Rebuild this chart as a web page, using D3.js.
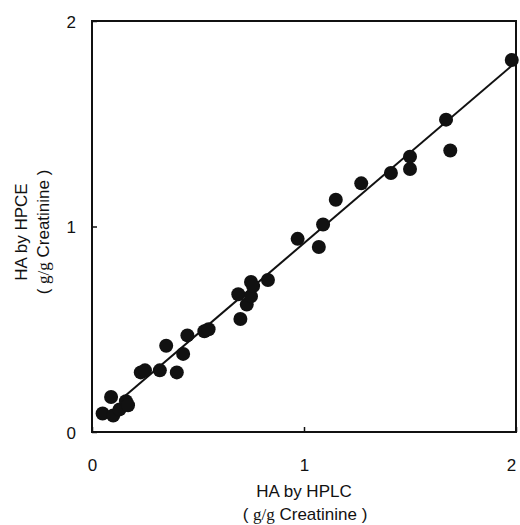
<!DOCTYPE html>
<html>
<head>
<meta charset="utf-8">
<script src="https://cdnjs.cloudflare.com/ajax/libs/d3/7.8.5/d3.min.js"></script>
<style>
    body { margin: 0; background: #fff; }
    svg text { font-family: "Liberation Sans", Arial, sans-serif; fill: #111; }
</style>
</head>
<body>
<div id="chart"></div>
<script>
// HA values
var hplc = [0.05, 0.09, 0.10, 0.13, 0.16, 0.17, 0.23, 0.25, 0.32, 0.35, 0.40, 0.43, 0.45,
            0.53, 0.55, 0.69, 0.70, 0.73, 0.75, 0.75, 0.76, 0.83, 0.97, 1.07, 1.09, 1.15,
            1.27, 1.41, 1.50, 1.50, 1.67, 1.69, 1.98];
var hpce = [0.09, 0.17, 0.08, 0.11, 0.15, 0.13, 0.29, 0.30, 0.30, 0.42, 0.29, 0.38, 0.47,
            0.49, 0.50, 0.67, 0.55, 0.62, 0.73, 0.66, 0.71, 0.74, 0.94, 0.90, 1.01, 1.13,
            1.21, 1.26, 1.28, 1.34, 1.52, 1.37, 1.81];
var fitX = [0.15, 2.0];
var fitY = [0.17, 1.80];
var ticks = [0, 1, 2];

var width = 520, height = 525,
    mLeft = 92, mRight = 516, mTop = 21, mBottom = 432;

var svg = d3.select('#chart').append('svg')
    .attr('width', width).attr('height', height);

var x = d3.scaleLinear().domain([0, 2]).range([mLeft, mRight]);
var y = d3.scaleLinear().domain([0, 2]).range([mBottom, mTop]);

// frame
svg.append('rect')
    .attr('x', x(0)).attr('y', y(2))
    .attr('width', x(2) - x(0)).attr('height', y(0) - y(2))
    .attr('fill', 'none').attr('stroke', '#111').attr('stroke-width', 2);

// inward ticks
var xAxis = svg.append('g').attr('transform', 'translate(0,' + mBottom + ')')
    .call(d3.axisBottom(x).tickValues(ticks).tickFormat(d3.format('d')).tickSize(-5).tickPadding(16));
var yAxis = svg.append('g').attr('transform', 'translate(' + mLeft + ',0)')
    .call(d3.axisLeft(y).tickValues(ticks).tickFormat(d3.format('d')).tickSize(-5).tickPadding(16));
[xAxis, yAxis].forEach(function (g) {
    g.select('.domain').remove();
    g.selectAll('line').attr('stroke', '#111').attr('stroke-width', 1.5);
    g.selectAll('text').attr('font-size', 17)
        .attr('font-family', '"Liberation Sans", Arial, sans-serif').attr('fill', '#111');
});
xAxis.selectAll('text').attr('dy', '1.35em');
// last label sits on the right edge, nudge so it stays in the window
xAxis.selectAll('text').filter(function (d) { return d === 2; }).attr('dx', -5);
yAxis.selectAll('text').attr('dy', '0.37em');

// regression line
svg.append('line')
    .attr('x1', x(fitX[0])).attr('y1', y(fitY[0]))
    .attr('x2', x(fitX[1])).attr('y2', y(fitY[1]))
    .attr('stroke', '#111').attr('stroke-width', 2);

// points
svg.selectAll('circle')
    .data(hplc)
    .enter()
    .append('circle')
    .attr('cx', function (d) { return x(d); })
    .attr('cy', function (d, i) { return y(hpce[i]); })
    .attr('r', 7)
    .attr('fill', '#111');

// axis titles
function unitLine(t) {
    t.append('tspan').text('( ');
    t.append('tspan').attr('font-family', '"Liberation Serif", serif').text('g/g');
    t.append('tspan').text(' Creatinine )');
}

svg.append('text').attr('x', 304).attr('y', 497)
    .attr('text-anchor', 'middle').attr('font-size', 17).text('HA by HPLC');
svg.append('text').attr('x', 305).attr('y', 520)
    .attr('text-anchor', 'middle').attr('font-size', 17).call(unitLine);

svg.append('text').attr('transform', 'translate(27,232) rotate(-90)')
    .attr('text-anchor', 'middle').attr('font-size', 17).text('HA by HPCE');
svg.append('text').attr('transform', 'translate(49,232) rotate(-90)')
    .attr('text-anchor', 'middle').attr('font-size', 17).call(unitLine);
</script>
</body>
</html>
